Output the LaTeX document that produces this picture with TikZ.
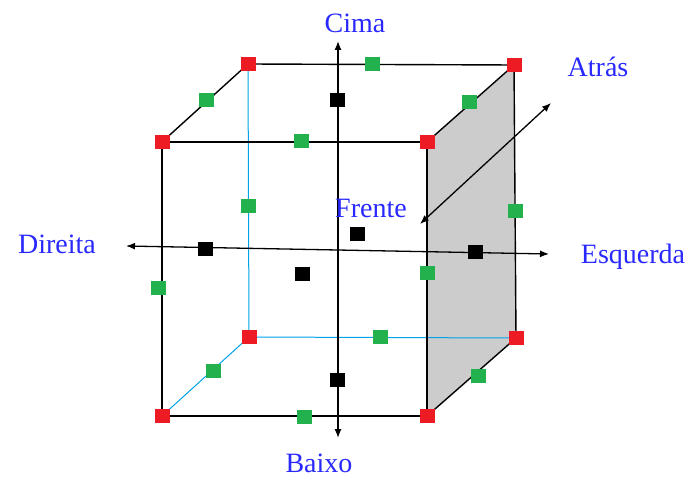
\documentclass[tikz,border=0pt]{standalone}
\usepackage{fontspec}
\setmainfont{Liberation Serif}
\usetikzlibrary{arrows.meta}
\definecolor{cred}{RGB}{237,28,36}
\definecolor{cgreen}{RGB}{34,177,76}
\definecolor{cblue}{RGB}{0,162,232}
\definecolor{cgrey}{RGB}{204,204,204}
\definecolor{ctext}{RGB}{40,40,255}
\begin{document}
\begin{tikzpicture}[x=1pt,y=-1pt,
  edge/.style={black,line width=1.4pt},
  hidden/.style={cblue,line width=1pt},
  axis/.style={black,line width=1.3pt,{Latex[length=9pt,width=7pt]}-{Latex[length=9pt,width=7pt]}},
  sq/.style={minimum width=15pt,minimum height=14pt,inner sep=0pt,outer sep=0pt},
  corner/.style={sq,fill=cred},
  mid/.style={sq,fill=cgreen},
  face/.style={sq,fill=black},
  lab/.style={text=ctext,font=\fontsize{28}{32}\selectfont,inner sep=0pt,anchor=base}]
\useasboundingbox (0,0) rectangle (692,478);
% cube corners
\coordinate (A) at (162,142);
\coordinate (B) at (427,142);
\coordinate (C) at (427,416);
\coordinate (D) at (162,416);
\coordinate (E) at (248,64);
\coordinate (F) at (514,65);
\coordinate (G) at (516,338);
\coordinate (H) at (249,337);
% grey right face
\fill[cgrey] (B) -- (F) -- (G) -- (C) -- cycle;
% hidden edges
\draw[hidden] (E) -- (H);
\draw[hidden] (H) -- (G);
\draw[hidden] (H) -- (D);
% visible edges
\draw[edge] (A) -- (B) -- (C) -- (D) -- cycle;
\draw[edge] (A) -- (E) -- (F) -- (B);
\draw[edge] (F) -- (G) -- (C);
% axes
\coordinate (ytop) at (338,41);
\coordinate (ybot) at (338,438);
\coordinate (xl) at (126,246);
\coordinate (xr) at (549,254);
\coordinate (zf) at (420,224);
\coordinate (zb) at (551,103);
\draw[axis] (ybot) -- (ytop);
\draw[axis] (xl) -- (xr);
\draw[axis] (zf) -- (zb);
% corner squares
\foreach \c in {A,B,C,D,E,F,G,H} \node[corner] (n\c) at (\c) {};
% edge midpoints
\node[mid] (m1) at (372,64) {};
\node[mid] (m2) at (206,100) {};
\node[mid] (m3) at (301,141) {};
\node[mid] (m4) at (469,102) {};
\node[mid] (m5) at (158,288) {};
\node[mid] (m6) at (248,206) {};
\node[mid] (m7) at (427,273) {};
\node[mid] (m8) at (515,211) {};
\node[mid] (m9) at (380,337) {};
\node[mid] (m10) at (213,371) {};
\node[mid] (m11) at (304,417) {};
\node[mid] (m12) at (478,376) {};
% face centres
\node[face] (f1) at (337,100) {};
\node[face] (f2) at (205,249) {};
\node[face] (f3) at (302,274) {};
\node[face] (f4) at (357,234) {};
\node[face] (f5) at (475,252) {};
\node[face] (f6) at (337,380) {};
% labels
\node[lab] (cima) at (355,33) {Cima};
\node[lab] (atras) at (598,77) {Atrás};
\node[lab] (frente) at (371,218) {Frente};
\node[lab] (direita) at (57,253) {Direita};
\node[lab] (esq) at (633,263) {Esquerda};
\node[lab] (baixo) at (319,472) {Baixo};
\end{tikzpicture}
\end{document}
